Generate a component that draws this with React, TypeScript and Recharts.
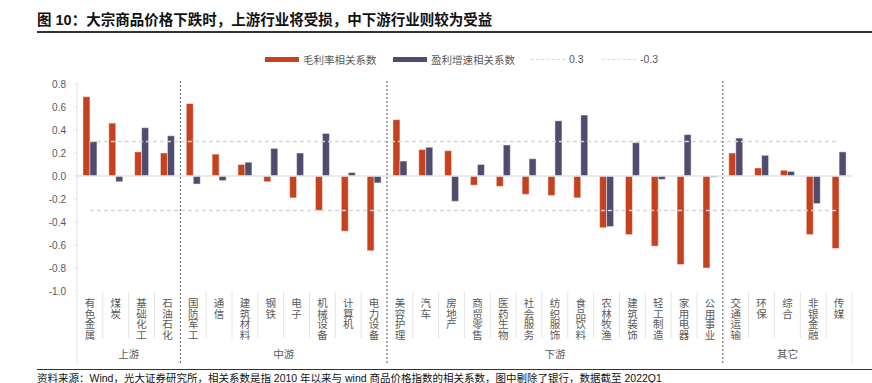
import React from "react";
import {
  ComposedChart, Bar, Line, XAxis, YAxis, ReferenceLine,
} from "recharts";

const categories = [
  "有色金属", "煤炭", "基础化工", "石油石化",
  "国防军工", "通信", "建筑材料", "钢铁", "电子", "机械设备", "计算机", "电力设备",
  "美容护理", "汽车", "房地产", "商贸零售", "医药生物", "社会服务", "纺织服饰", "食品饮料",
  "农林牧渔", "建筑装饰", "轻工制造", "家用电器", "公用事业",
  "交通运输", "环保", "综合", "非银金融", "传媒",
];

const grossMargin = [
  0.69, 0.46, 0.21, 0.20,
  0.63, 0.19, 0.10, -0.05, -0.19, -0.30, -0.48, -0.65,
  0.49, 0.23, 0.22, -0.08, -0.09, -0.16, -0.17, -0.19,
  -0.45, -0.51, -0.61, -0.77, -0.80,
  0.20, 0.07, 0.05, -0.51, -0.63,
];

const profitGrowth = [
  0.30, -0.05, 0.42, 0.35,
  -0.07, -0.04, 0.12, 0.24, 0.20, 0.37, 0.03, -0.06,
  0.13, 0.25, -0.22, 0.10, 0.27, 0.15, 0.48, 0.53,
  -0.44, 0.29, -0.03, 0.36, -0.01,
  0.33, 0.18, 0.04, -0.24, 0.21,
];

const upper = [
  0.3, 0.3, 0.3, 0.3, 0.3, 0.3, 0.3, 0.3, 0.3, 0.3,
  0.3, 0.3, 0.3, 0.3, 0.3, 0.3, 0.3, 0.3, 0.3, 0.3,
  0.3, 0.3, 0.3, 0.3, 0.3, 0.3, 0.3, 0.3, 0.3, 0.3,
];

const lower = [
  -0.3, -0.3, -0.3, -0.3, -0.3, -0.3, -0.3, -0.3, -0.3, -0.3,
  -0.3, -0.3, -0.3, -0.3, -0.3, -0.3, -0.3, -0.3, -0.3, -0.3,
  -0.3, -0.3, -0.3, -0.3, -0.3, -0.3, -0.3, -0.3, -0.3, -0.3,
];

const groups = [
  { name: "上游", start: 0, count: 4 },
  { name: "中游", start: 4, count: 8 },
  { name: "下游", start: 12, count: 13 },
  { name: "其它", start: 25, count: 5 },
];

const yTicks = [-1, -0.8, -0.6, -0.4, -0.2, 0, 0.2, 0.4, 0.6, 0.8];

const data = categories.map((name, i) => ({
  name,
  gross: grossMargin[i],
  growth: profitGrowth[i],
  up: upper[i],
  low: lower[i],
}));

const RED = "#c6421f";
const BLUE = "#4f4c6f";
const FONT = "'Liberation Sans', 'Noto Sans CJK SC', sans-serif";

const CategoryTick = ({ x, y, payload, index }: any) => {
  const half = payload?.offset || 12.92;
  const label = String(payload.value);
  const left = x - half;
  const group = groups.find(g => g.start === index);
  const isLast = index === categories.length - 1;
  return (
    <g>
      {label.split("").map((ch, i) => (
        <text key={i} x={x} y={y + 16 + i * 10.5} textAnchor="middle" fontSize={10.5} fill="#595959" fontFamily={FONT}>
          {ch}
        </text>
      ))}
      {!group && <line x1={left} x2={left} y1={y + 1} y2={y + 47} stroke="#e2e2e2" />}
      {group && index === 0 && <line x1={left} x2={left} y1={y + 1} y2={y + 73} stroke="#e2e2e2" />}
      {group && index !== 0 && (
        <line x1={left} x2={left} y1={y - 210} y2={y + 74} stroke="#555" strokeDasharray="2 2" />
      )}
      {group && (
        <text x={x + (group.count - 1) * half} y={y + 67} textAnchor="middle" fontSize={10.5} fill="#595959" fontFamily={FONT}>
          {group.name}
        </text>
      )}
      {isLast && <line x1={x + half} x2={x + half} y1={y + 1} y2={y + 73} stroke="#e2e2e2" />}
    </g>
  );
};

const LegendItem = ({ left, swatch, label, dashed }: any) => (
  <div style={{ position: "absolute", left, top: 52, display: "flex", alignItems: "center", height: 14 }}>
    {dashed ? (
      <span style={{ width: 34, height: 0, borderTop: "1.5px dashed #d6d6d6", display: "inline-block" }} />
    ) : (
      <span style={{ width: 34, height: 5, background: swatch, display: "inline-block" }} />
    )}
    <span style={{ marginLeft: 4, fontSize: 10.5, color: "#595959" }}>{label}</span>
  </div>
);

export default function App() {
  return (
    <div style={{ position: "fixed", left: 0, top: 0, width: 872, height: 383, background: "#fff", fontFamily: FONT, overflow: "hidden" }}>
      <div style={{ position: "absolute", left: 37, top: 8, fontSize: 14.5, fontWeight: 700, color: "#111", whiteSpace: "nowrap" }}>
        图 10：大宗商品价格下跌时，上游行业将受损，中下游行业则较为受益
      </div>
      <div style={{ position: "absolute", left: 37, top: 31, width: 835, height: 1.5, background: "#333" }} />

      <LegendItem left={265} swatch={RED} label="毛利率相关系数" />
      <LegendItem left={393} swatch={BLUE} label="盈利增速相关系数" />
      <LegendItem left={531} dashed label="0.3" />
      <LegendItem left={602} dashed label="-0.3" />

      <div style={{ position: "absolute", left: 0, top: 0 }}>
        <ComposedChart
          width={872}
          height={383}
          data={data}
          margin={{ top: 84, right: 20, bottom: 0, left: 0 }}
          barCategoryGap="23%"
          barGap={0}
        >
          <XAxis
            dataKey="name"
            interval={0}
            height={92}
            tickLine={false}
            axisLine={false}
            tickSize={0}
            tickMargin={0}
            tick={<CategoryTick />}
          />
          <YAxis
            width={77}
            domain={[-1, 0.8]}
            ticks={yTicks}
            interval={0}
            tickFormatter={(v: number) => v.toFixed(1)}
            tick={{ fill: "#595959", fontSize: 10, fontFamily: FONT }}
            axisLine={{ stroke: "#e2e2e2" }}
            tickLine={{ stroke: "#e2e2e2" }}
            tickSize={3}
            tickMargin={8}
          />
          <ReferenceLine y={0} stroke="#e2e2e2" strokeWidth={1.5} />
          <Bar dataKey="gross" name="毛利率相关系数" fill={RED} stroke="#ffffff" strokeOpacity={0.45} isAnimationActive={false} />
          <Bar dataKey="growth" name="盈利增速相关系数" fill={BLUE} stroke="#ffffff" strokeOpacity={0.45} isAnimationActive={false} />
          <Line dataKey="up" name="0.3" stroke="#d6d6d6" strokeWidth={1.5} strokeDasharray="4 3" dot={false} isAnimationActive={false} />
          <Line dataKey="low" name="-0.3" stroke="#d6d6d6" strokeWidth={1.5} strokeDasharray="4 3" dot={false} isAnimationActive={false} />
        </ComposedChart>
      </div>

      <div style={{ position: "absolute", left: 37, top: 369, width: 835, height: 1, background: "#333" }} />
      <div style={{ position: "absolute", left: 37, top: 370, fontSize: 10.5, color: "#111", whiteSpace: "nowrap" }}>
        资料来源：Wind，光大证券研究所，相关系数是指 2010 年以来与 wind 商品价格指数的相关系数，图中剔除了银行，数据截至 2022Q1
      </div>
    </div>
  );
}
